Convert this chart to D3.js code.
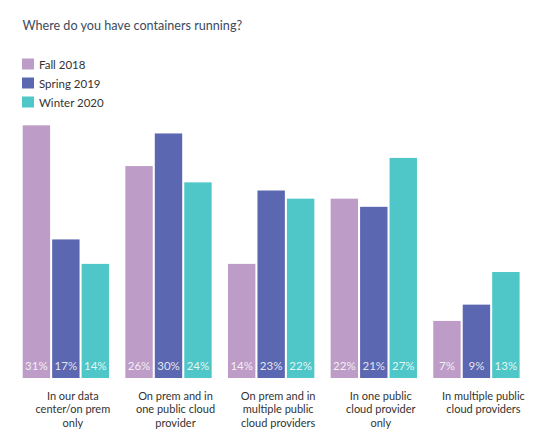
<!DOCTYPE html>
<html>
<head>
<meta charset="utf-8">
<script src="https://cdn.jsdelivr.net/npm/d3@7"></script>
<style>
  body { margin: 0; background: #fff; }
  svg { display: block; font-family: Lato, "Open Sans", sans-serif; }
</style>
</head>
<body>
<div id="chart"></div>
<script>
// Data
const categories = [
  ["In our data", "center/on prem", "only"],
  ["On prem and in", "one public cloud", "provider"],
  ["On prem and in", "multiple public", "cloud providers"],
  ["In one public", "cloud provider", "only"],
  ["In multiple public", "cloud providers"]
];
const seriesNames = ["Fall 2018", "Spring 2019", "Winter 2020"];
const fall2018 = [31, 26, 14, 22, 7];
const spring2019 = [17, 30, 23, 21, 9];
const winter2020 = [14, 24, 22, 27, 13];
const seriesValues = [fall2018, spring2019, winter2020];
const colors = ["#bd9dc8", "#5b67b0", "#4fc7c8"];

const width = 539;
const height = 443;

const svg = d3.select("#chart")
  .append("svg")
  .attr("width", width)
  .attr("height", height);

// Title
svg.append("text")
  .attr("x", 22.5)
  .attr("y", 30)
  .attr("font-size", "12.6px")
  .attr("fill", "#3b4a5e")
  .text("Where do you have containers running?");

// Legend
const legend = svg.append("g")
  .selectAll("g")
  .data(seriesNames)
  .enter()
  .append("g")
  .attr("transform", (d, i) => `translate(22,${58.5 + i * 19})`);

legend.append("rect")
  .attr("width", 12)
  .attr("height", 11)
  .attr("fill", (d, i) => colors[i]);

legend.append("text")
  .attr("x", 17)
  .attr("y", 10)
  .attr("font-size", "11.5px")
  .attr("fill", "#333")
  .text(d => d);

// Scales
const x0 = d3.scaleBand()
  .domain(d3.range(categories.length))
  .range([22.7, 519.6])
  .paddingInner(0.159)
  .paddingOuter(0);

const x1 = d3.scaleBand()
  .domain(d3.range(seriesNames.length))
  .range([0, x0.bandwidth()])
  .paddingInner(0.07);

const y = d3.scaleLinear()
  .domain([0, 31])
  .range([378, 125.3]);

// Bars
const rows = categories.map((c, i) => seriesValues.map((s, j) => ({ cat: i, ser: j, value: s[i] })));

const group = svg.append("g")
  .selectAll("g")
  .data(rows)
  .enter()
  .append("g")
  .attr("transform", (d, i) => `translate(${x0(i)},0)`);

group.selectAll("rect")
  .data(d => d)
  .enter()
  .append("rect")
  .attr("x", d => x1(d.ser))
  .attr("y", d => y(d.value))
  .attr("width", x1.bandwidth())
  .attr("height", d => y(0) - y(d.value))
  .attr("fill", d => colors[d.ser]);

group.selectAll("text.val")
  .data(d => d)
  .enter()
  .append("text")
  .attr("class", "val")
  .attr("x", d => x1(d.ser) + x1.bandwidth() / 2)
  .attr("y", 370)
  .attr("text-anchor", "middle")
  .attr("font-size", "11.5px")
  .attr("fill", "#fff")
  .attr("fill-opacity", 0.85)
  .text(d => d.value + "%");

// Category labels
const labels = svg.append("g")
  .selectAll("text")
  .data(categories)
  .enter()
  .append("text")
  .attr("x", (d, i) => x0(i) + x0.bandwidth() / 2 + 7)
  .attr("y", 400)
  .attr("text-anchor", "middle")
  .attr("font-size", "11px")
  .attr("fill", "#333");

labels.selectAll("tspan")
  .data(d => d)
  .enter()
  .append("tspan")
  .attr("x", function () { return d3.select(this.parentNode).attr("x"); })
  .attr("dy", (d, i) => i === 0 ? 0 : 13.3)
  .text(d => d);
</script>
</body>
</html>
